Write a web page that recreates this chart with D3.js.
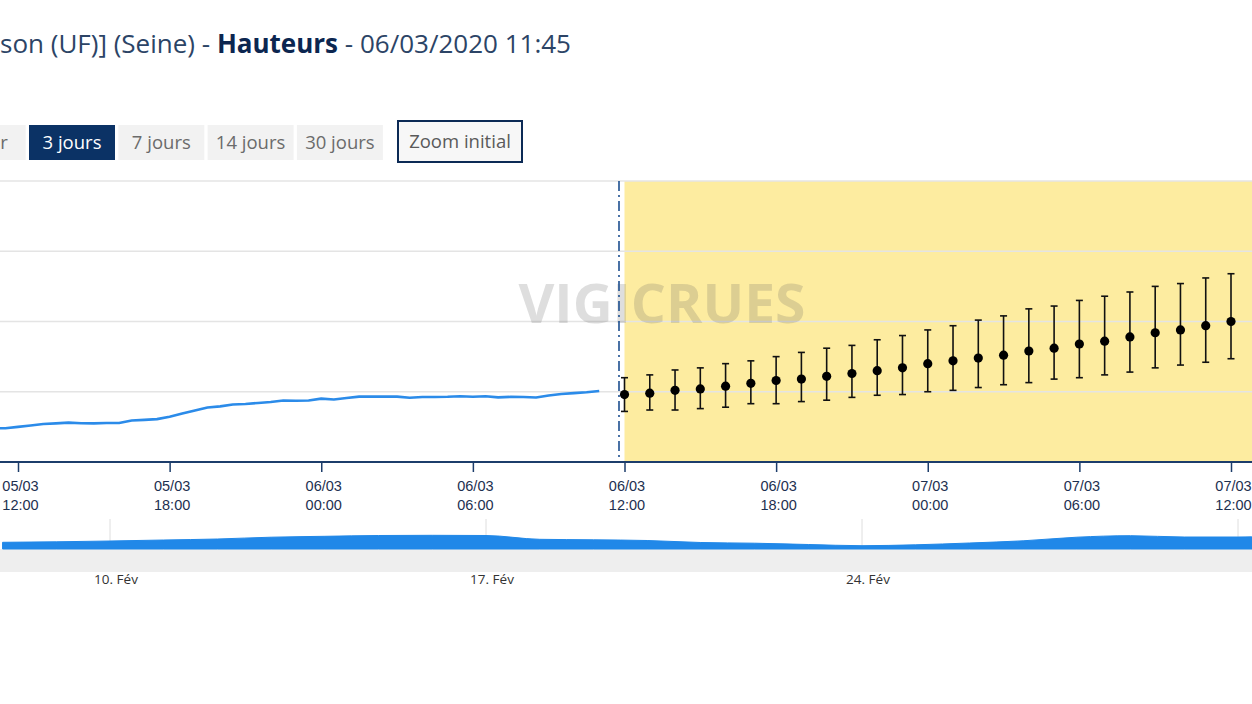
<!DOCTYPE html>
<html>
<head>
<meta charset="utf-8">
<script src="https://cdn.jsdelivr.net/npm/d3@7"></script>
<style>
  body { margin: 0; background: #fff; overflow: hidden; }
  svg { display: block; font-family: "Open Sans", sans-serif; }
</style>
</head>
<body>
<svg id="chart" width="1252" height="704"></svg>
<script>
// observed heights (m), one value every 30 min from 05/03 11:00 to 06/03 11:00
var obsValues = [3.24, 3.24, 3.25, 3.26, 3.27, 3.275, 3.28, 3.276, 3.275, 3.278,
                 3.278, 3.295, 3.30, 3.305, 3.322, 3.345, 3.367, 3.388, 3.396, 3.409,
                 3.413, 3.42, 3.427, 3.438, 3.436, 3.438, 3.451, 3.445, 3.456, 3.465,
                 3.465, 3.465, 3.465, 3.457, 3.463, 3.463, 3.464, 3.468, 3.464, 3.468,
                 3.46, 3.464, 3.463, 3.459, 3.473, 3.484, 3.49, 3.496, 3.505];

// forecast (m), hourly from 06/03 12:00 to 07/03 12:00
var fcMid  = [3.48, 3.49, 3.51, 3.52, 3.54, 3.56, 3.58, 3.59, 3.61, 3.63,
              3.65, 3.67, 3.70, 3.72, 3.74, 3.76, 3.79, 3.81, 3.84, 3.86,
              3.89, 3.92, 3.94, 3.97, 4.00];
var fcLow  = [3.36, 3.37, 3.37, 3.38, 3.39, 3.415, 3.415, 3.43, 3.44, 3.46,
              3.475, 3.48, 3.50, 3.51, 3.53, 3.55, 3.565, 3.59, 3.60, 3.62,
              3.64, 3.67, 3.69, 3.71, 3.735];
var fcHigh = [3.60, 3.62, 3.655, 3.67, 3.70, 3.72, 3.75, 3.78, 3.81, 3.83,
              3.87, 3.90, 3.94, 3.97, 4.01, 4.04, 4.09, 4.11, 4.15, 4.18,
              4.21, 4.25, 4.27, 4.31, 4.34];

// navigator series (m), daily from 08/02
var navValues = [2.77, 2.82, 2.90, 3.00, 3.10, 3.28, 3.37, 3.45, 3.47, 3.45,
                 3.07, 3.02, 2.95, 2.75, 2.68, 2.55, 2.43, 2.52, 2.70, 2.92,
                 3.28, 3.43, 3.30, 3.30, 3.50];

var yTicks = [3, 3.5, 4, 4.5, 5];
var rangeButtons = ["1 jour", "3 jours", "7 jours", "14 jours", "30 jours"];
var activeButton = "3 jours";
var titleParts = [
  {text: "son (UF)] (Seine) - ", bold: false},
  {text: "Hauteurs", bold: true},
  {text: " - 06/03/2020 11:45", bold: false}
];
var frMonths = ["Jan", "Fév", "Mar", "Avr", "Mai", "Juin", "Juil", "Aoû", "Sep", "Oct", "Nov", "Déc"];

var W = 1252;
var svg = d3.select("#chart");

var obsStart = new Date(2020, 2, 5, 11, 0);
var fcStart = new Date(2020, 2, 6, 12, 0);
var navStart = new Date(2020, 1, 8);

var obs = obsValues.map(function(v, i) { return {t: d3.timeMinute.offset(obsStart, 30 * i), v: v}; });
var fc = fcMid.map(function(v, i) {
  return {t: d3.timeHour.offset(fcStart, i), v: v, lo: fcLow[i], hi: fcHigh[i]};
});
var nav = navValues.map(function(v, i) { return {t: d3.timeDay.offset(navStart, i), v: v}; });

// ---- title
var title = svg.append("text").attr("x", 0).attr("y", 53)
  .style("font-size", "26px");
titleParts.forEach(function(p) {
  title.append("tspan").text(p.text)
    .attr("fill", p.bold ? "#0c2650" : "#2c4466")
    .attr("font-weight", p.bold ? 700 : 400);
});

// ---- range buttons
var btnStep = 89.3, btnW = 86, btn0 = 29 - btnStep;
var btn = svg.selectAll("g.btn").data(rangeButtons).enter().append("g")
  .attr("class", "btn")
  .attr("transform", function(d, i) { return "translate(" + (btn0 + i * btnStep) + ",125)"; });
btn.append("rect").attr("width", btnW).attr("height", 35)
  .attr("fill", function(d) { return d == activeButton ? "#0b3265" : "#f2f2f2"; });
btn.append("text").attr("x", btnW / 2).attr("y", 24).attr("text-anchor", "middle")
  .style("font-size", "18.5px")
  .attr("fill", function(d) { return d == activeButton ? "#fff" : "#6b6b6b"; })
  .text(function(d) { return d; });

var zoomBtn = svg.append("g").attr("transform", "translate(398,121)");
zoomBtn.append("rect").attr("width", 124).attr("height", 41)
  .attr("fill", "#f7f7f7").attr("stroke", "#0c2a55").attr("stroke-width", 2);
zoomBtn.append("text").attr("x", 62).attr("y", 27).attr("text-anchor", "middle")
  .style("font-size", "18.5px").attr("fill", "#5a5a5a").text("Zoom initial");

// ---- main chart
var plotTop = 181, plotBottom = 462;
var x = d3.scaleTime()
  .domain([new Date(2020, 2, 5, 12), new Date(2020, 2, 7, 12)])
  .range([18, 1231]);
var y = d3.scaleLinear().domain([3, 5]).range([plotBottom, plotTop]);

svg.append("clipPath").attr("id", "plotclip").append("rect")
  .attr("x", 0).attr("y", plotTop - 1).attr("width", W).attr("height", plotBottom - plotTop + 1);

var plot = svg.append("g").attr("clip-path", "url(#plotclip)");

// forecast zone
plot.append("rect")
  .attr("x", x(fcStart)).attr("y", plotTop)
  .attr("width", W - x(fcStart)).attr("height", plotBottom - plotTop)
  .attr("fill", "#fdeca0");

// grid
plot.selectAll("line.grid").data(yTicks.slice(1)).enter().append("line")
  .attr("x1", 0).attr("x2", W)
  .attr("y1", function(d) { return y(d); }).attr("y2", function(d) { return y(d); })
  .attr("stroke", "#e4e4e4").attr("stroke-width", 1.5);

// watermark
plot.append("text").attr("x", 662).attr("y", 323).attr("text-anchor", "middle")
  .attr("textLength", 287).attr("lengthAdjust", "spacingAndGlyphs")
  .style("font-size", "54px").attr("font-weight", 700)
  .attr("fill", "rgba(90,90,90,0.2)").text("VIGICRUES");

// now line
plot.append("line")
  .attr("x1", 619).attr("x2", 619).attr("y1", plotTop).attr("y2", plotBottom)
  .attr("stroke", "#1d4f8f").attr("stroke-width", 1.6)
  .attr("stroke-dasharray", "10,4,2,4");

// observed line
plot.append("path").datum(obs)
  .attr("fill", "none").attr("stroke", "#2b8be9").attr("stroke-width", 2.6)
  .attr("stroke-linejoin", "round")
  .attr("d", d3.line().x(function(d) { return x(d.t); }).y(function(d) { return y(d.v); }));

// forecast error bars
var eb = plot.selectAll("g.eb").data(fc).enter().append("g").attr("class", "eb");
eb.append("line")
  .attr("x1", function(d) { return x(d.t); }).attr("x2", function(d) { return x(d.t); })
  .attr("y1", function(d) { return y(d.lo); }).attr("y2", function(d) { return y(d.hi); })
  .attr("stroke", "#111").attr("stroke-width", 1.6);
["lo", "hi"].forEach(function(k) {
  eb.append("line")
    .attr("x1", function(d) { return x(d.t) - 3.5; }).attr("x2", function(d) { return x(d.t) + 3.5; })
    .attr("y1", function(d) { return y(d[k]); }).attr("y2", function(d) { return y(d[k]); })
    .attr("stroke", "#111").attr("stroke-width", 1.6);
});
eb.append("circle")
  .attr("cx", function(d) { return x(d.t); }).attr("cy", function(d) { return y(d.v); })
  .attr("r", 4.6).attr("fill", "#000");

// x axis
var fmtDay = d3.timeFormat("%d/%m"), fmtHour = d3.timeFormat("%H:%M");
var xAxis = svg.append("g").attr("transform", "translate(0," + plotBottom + ")")
  .call(d3.axisBottom(x).ticks(d3.timeHour.every(6)).tickSize(10).tickFormat(""));
xAxis.select(".domain").remove();
xAxis.selectAll(".tick line").attr("stroke", "#1c3d6b").attr("stroke-width", 1.5);
svg.append("line").attr("x1", 0).attr("x2", W).attr("y1", plotBottom).attr("y2", plotBottom)
  .attr("stroke", "#1c3d6b").attr("stroke-width", 2);
xAxis.selectAll(".tick text").remove();
xAxis.selectAll(".tick").each(function(d) {
  var t = d3.select(this).append("text").attr("text-anchor", "middle")
    .attr("fill", "#1d3050").style("font-size", "14.5px");
  t.append("tspan").attr("x", 2).attr("y", 29).text(fmtDay(d));
  t.append("tspan").attr("x", 2).attr("y", 48).text(fmtHour(d));
});

// ---- navigator
var nx = d3.scaleTime().domain([new Date(2020, 1, 10), new Date(2020, 1, 24)]).range([110, 862]);
var ny = d3.scaleLinear().domain([2, 5]).range([550, 520]);

svg.append("rect").attr("x", 0).attr("y", 549).attr("width", W).attr("height", 23).attr("fill", "#eeeeee");

var navTicks = d3.timeWeek.every(1).range(new Date(2020, 1, 3), new Date(2020, 2, 10))
  .map(function(d) { return d3.timeDay.offset(d, 1); });
svg.selectAll("line.ngrid").data(navTicks).enter().append("line")
  .attr("x1", function(d) { return nx(d); }).attr("x2", function(d) { return nx(d); })
  .attr("y1", 519).attr("y2", 549).attr("stroke", "#dedede").attr("stroke-width", 1);

svg.append("path").datum(nav)
  .attr("fill", "#2188e8").attr("stroke", "#2188e8").attr("stroke-width", 1)
  .attr("d", d3.area().curve(d3.curveMonotoneX)
    .x(function(d) { return nx(d.t); }).y0(549).y1(function(d) { return ny(d.v); }));

svg.selectAll("text.nlab").data(navTicks.filter(function(d) { return nx(d) > 20 && nx(d) < W - 40; }))
  .enter().append("text")
  .attr("x", function(d) { return nx(d) + 6; }).attr("y", 584)
  .attr("text-anchor", "middle").attr("fill", "#333").style("font-size", "13.5px")
  .text(function(d) { return d.getDate() + ". " + frMonths[d.getMonth()]; });
</script>
</body>
</html>
